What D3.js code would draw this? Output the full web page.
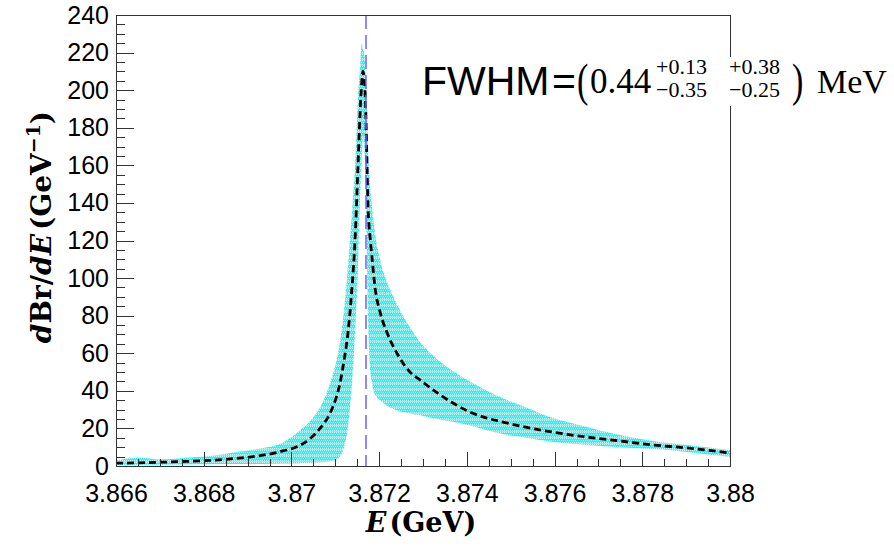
<!DOCTYPE html>
<html><head><meta charset="utf-8">
<script src="https://cdn.jsdelivr.net/npm/d3@7"></script>
<style>body{margin:0;background:#fff}</style>
</head><body>
<svg id="c" width="894" height="548"></svg>
<script>
// ---- data ----
const energy  = [3.866000,3.866547,3.867003,3.867528,3.868143,3.868668,3.869283,3.869808,3.870196,3.870423,
                 3.870651,3.870879,3.871016,3.871107,3.871199,3.871290,3.871381,3.871450,3.871518,3.871564,
                 3.871603,3.871632,3.871655,3.871678,3.871700,3.871723,3.871746,3.871769,3.871792,3.871837,
                 3.871906,3.872020,3.872179,3.872407,3.872703,3.872931,3.873319,3.873684,3.874072,3.874459,
                 3.874824,3.875212,3.875964,3.876739,3.877491,3.878244,3.879020,3.880000];
const central = [1.5,1.7,2.0,2.4,3.0,3.9,5.5,8.0,11,14.5,
                 20,28,36,44,56,71,95,120,160,187,
                 204,210,207,200,184,160,138,128,122,111,
                 95,82,71,60,50,45.8,39,33.5,28.7,25.5,
                 23.4,21.3,18,15.4,13.3,11.2,9.6,6.9];
const lower   = [0.5,0.6,0.7,0.8,0.9,1.0,1.1,1.3,1.5,1.6,
                 1.8,2.5,3.5,5,10,21,44,71,106,141,
                 162,175,172,160,140,110,80,62,52,44,
                 38,35,32,29.5,28,27,25,23.5,21.5,19,
                 17,15.5,12.8,11.2,10,9,7.5,4.8];
const upper   = [3.0,4.4,3.5,4.3,5.3,7.2,9.3,12.5,19,24,
                 31,44,55,66,83,107,135,160,196,212,
                 225,222,220,215,205,190,170,158,150,138,
                 124,110,98,86,74,66,57,50.5,45,40,
                 36,32.5,25.5,20.8,16.5,13.3,11.2,8.5];
const thresholdE = 3.8717;
const xTickValues = [3.866,3.868,3.870,3.872,3.874,3.876,3.878,3.880];
const xTickLabels = ["3.866","3.868","3.87","3.872","3.874","3.876","3.878","3.88"];
const yTickValues = [0,20,40,60,80,100,120,140,160,180,200,220,240];

// ---- layout ----
const L=116, T=15, R=730, B=466;
const svg = d3.select("#c");
const x = d3.scaleLinear().domain([3.866,3.880]).range([L,R]);
const y = d3.scaleLinear().domain([0,240]).range([B,T]);

const defs = svg.append("defs");
const pat = defs.append("pattern").attr("id","dots").attr("patternUnits","userSpaceOnUse")
  .attr("width",2).attr("height",6);
pat.append("rect").attr("width",2).attr("height",6).attr("fill","#28f4f4");
[[0,0],[1,2],[0,4]].forEach(([a,b])=>pat.append("rect").attr("x",a).attr("y",b).attr("width",1).attr("height",1).attr("fill","#ffffff").attr("opacity",0.75));
pat.append("rect").attr("x",0).attr("y",5).attr("width",2).attr("height",1).attr("fill","#ffffff").attr("opacity",0.35);
defs.append("clipPath").attr("id","clip").append("rect").attr("x",L).attr("y",T).attr("width",R-L).attr("height",B-T);

const idx = d3.range(energy.length);
const g = svg.append("g").attr("clip-path","url(#clip)");

g.append("path")
  .attr("d", d3.area().x(i=>x(energy[i])).y0(i=>y(lower[i])).y1(i=>y(upper[i])).curve(d3.curveMonotoneX)(idx))
  .attr("fill","url(#dots)");

g.append("path")
  .attr("d", d3.line().x(i=>x(energy[i])).y(i=>y(central[i])).curve(d3.curveMonotoneX)(idx))
  .attr("fill","none").attr("stroke","#000").attr("stroke-width",2.8).attr("stroke-dasharray","7,4");

g.append("line")
  .attr("x1",x(thresholdE)).attr("x2",x(thresholdE)).attr("y1",T).attr("y2",B)
  .attr("stroke","#6a62ff").attr("stroke-width",1.5).attr("stroke-dasharray","14,6");

// ---- axes ----
const tickCol = "#333";
const yMinor = d3.range(0,240.1,5).filter(v=>v%20!==0);
const xMinor = d3.range(0,29).map(k=>3.866+k*0.0005).filter((v,k)=>k%4!==0);

const yAx = svg.append("g").attr("transform",`translate(${L},0)`)
  .call(d3.axisLeft(y).tickValues(yTickValues).tickSizeInner(-18).tickSizeOuter(0).tickPadding(7).tickFormat(d3.format("d")));
const yAxm = svg.append("g").attr("transform",`translate(${L},0)`)
  .call(d3.axisLeft(y).tickValues(yMinor).tickSizeInner(-9).tickSizeOuter(0).tickFormat(""));
const xAx = svg.append("g").attr("transform",`translate(0,${B})`)
  .call(d3.axisBottom(x).tickValues(xTickValues).tickSizeInner(-14).tickSizeOuter(0).tickPadding(18)
        .tickFormat((d,i)=>xTickLabels[i]));
const xAxm = svg.append("g").attr("transform",`translate(0,${B})`)
  .call(d3.axisBottom(x).tickValues(xMinor).tickSizeInner(-7).tickSizeOuter(0).tickFormat(""));
[yAx,yAxm,xAx,xAxm].forEach(a=>{
  a.select(".domain").remove();
  a.selectAll("line").attr("stroke",tickCol).attr("shape-rendering","crispEdges");
  a.selectAll("text").attr("font-family","'Liberation Sans', Arial, sans-serif").attr("font-size",25).attr("fill","#000");
});

svg.append("rect").attr("x",L).attr("y",T).attr("width",R-L).attr("height",B-T)
  .attr("fill","none").attr("stroke",tickCol).attr("stroke-width",1).attr("shape-rendering","crispEdges");

// ---- axis titles ----
const serif = "'DejaVu Serif', 'Liberation Serif', serif";
const xt = svg.append("text").attr("x",421).attr("y",532).attr("text-anchor","middle")
  .attr("font-family",serif).attr("font-weight","bold").attr("font-size",27);
xt.append("tspan").attr("font-style","italic").text("E");
xt.append("tspan").attr("dx",3).text("(GeV)");

const yt = svg.append("text").attr("transform","translate(51,227) rotate(-90)").attr("text-anchor","middle")
  .attr("font-family",serif).attr("font-weight","bold").attr("font-size",28);
yt.append("tspan").attr("font-style","italic").text("d");
yt.append("tspan").text("Br/");
yt.append("tspan").attr("font-style","italic").text("dE");
yt.append("tspan").attr("dx",4).text("(GeV");
yt.append("tspan").attr("dy",-11).attr("font-size",19).text("−1");
yt.append("tspan").attr("dy",11).text(")");

// ---- FWHM label ----
svg.append("rect").attr("x",416).attr("y",57).attr("width",476).attr("height",49).attr("fill","#fff");
const sans = "'Liberation Sans', Arial, sans-serif", rm = "'Liberation Serif', 'Times New Roman', serif";
svg.append("text").attr("x",422).attr("y",95).attr("font-family",sans).attr("font-size",41).text("FWHM");
svg.append("text").attr("x",552).attr("y",95).attr("font-family",sans).attr("font-size",41).text("=");
svg.append("text").attr("transform","translate(577,96) scale(1,1.35)").attr("font-family",rm).attr("font-size",34).text("(");
svg.append("text").attr("x",590).attr("y",93).attr("font-family",rm).attr("font-size",35).text("0.44");
svg.append("text").attr("x",656).attr("y",74).attr("font-family",rm).attr("font-size",22).text("+0.13");
svg.append("text").attr("x",656).attr("y",97).attr("font-family",rm).attr("font-size",22).text("−0.35");
svg.append("text").attr("x",729).attr("y",74).attr("font-family",rm).attr("font-size",22).text("+0.38");
svg.append("text").attr("x",729).attr("y",97).attr("font-family",rm).attr("font-size",22).text("−0.25");
svg.append("text").attr("transform","translate(792,96) scale(1,1.35)").attr("font-family",rm).attr("font-size",34).text(")");
svg.append("text").attr("x",817).attr("y",93).attr("font-family",rm).attr("font-size",34).text("MeV");
</script>
</body></html>
